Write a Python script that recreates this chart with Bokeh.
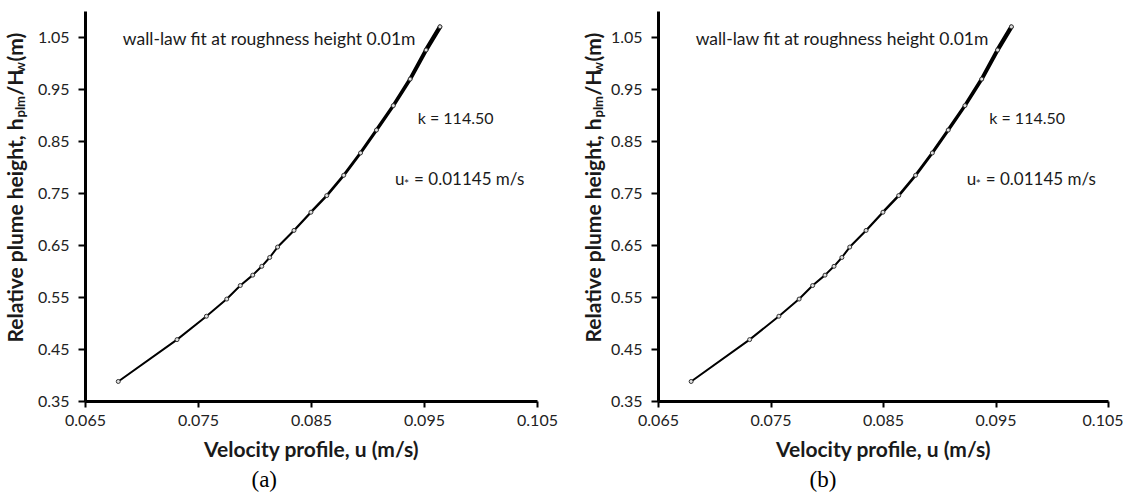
import math
from bokeh.plotting import figure
from bokeh.layouts import row
from bokeh.models import Range1d, FixedTicker, PrintfTickFormatter, Label, ColumnDataSource, Title
from bokeh.core.properties import value
from bokeh.embed import file_html
from bokeh.resources import INLINE

# ---- data ----
velocity_a = [0.0679, 0.0731, 0.0757, 0.0775, 0.0787, 0.0798, 0.0806, 0.0813,
              0.0820, 0.08345, 0.08495, 0.08635, 0.08785, 0.08934, 0.09075,
              0.09224, 0.09373, 0.09514, 0.09637]
height_a = [0.3885, 0.469, 0.514, 0.547, 0.573, 0.593, 0.610, 0.627,
            0.647, 0.679, 0.714, 0.746, 0.785, 0.828, 0.872,
            0.919, 0.970, 1.026, 1.0706]
velocity_b = list(velocity_a)
height_b = list(height_a)

x_ticks = [0.065, 0.075, 0.085, 0.095, 0.105]
y_ticks = [0.35, 0.45, 0.55, 0.65, 0.75, 0.85, 0.95, 1.05]

fit_text = "wall-law fit at roughness height 0.01m"
k_text = "k = 114.50"
ustar_text = "= 0.01145 m/s"
x_title = "Velocity profile, u (m/s)"
y_title_pieces = ["Relative plume height, h", "plm", "/H", "w", " (m)"]
panel_tags = ["(a)", "(b)"]

SANS = "Lato"
TXT = "#1a1a1a"
FIG_H = 494
TOP = 11
FRAME_H = 390
BOTTOM = FIG_H - TOP - FRAME_H


def make_panel(u, h, tag, width, left, right, tag_offset):
    p = figure(width=width, height=FIG_H, output_backend="svg", toolbar_location=None,
               x_range=Range1d(0.065, 0.105), y_range=Range1d(0.35, 1.10),
               min_border_left=left, min_border_right=right,
               min_border_top=TOP, min_border_bottom=BOTTOM)
    p.outline_line_color = None
    p.xgrid.grid_line_color = None
    p.ygrid.grid_line_color = None
    p.background_fill_color = "white"
    p.border_fill_color = "white"

    for ax in (p.xaxis[0], p.yaxis[0]):
        ax.axis_line_width = 3
        ax.axis_line_color = "black"
        ax.major_tick_line_width = 2
        ax.major_tick_line_color = "black"
        ax.major_tick_in = 0
        ax.minor_tick_line_color = None
        ax.major_label_text_font = SANS
        ax.major_label_text_font_size = "16px"
        ax.major_label_text_color = "#222222"
    p.xaxis[0].ticker = FixedTicker(ticks=x_ticks)
    p.yaxis[0].ticker = FixedTicker(ticks=y_ticks)
    p.xaxis[0].formatter = PrintfTickFormatter(format="%.3f")
    p.yaxis[0].formatter = PrintfTickFormatter(format="%.2f")
    p.xaxis[0].major_tick_out = 6
    p.yaxis[0].major_tick_out = 7
    p.xaxis[0].major_label_standoff = 7
    p.yaxis[0].major_label_standoff = 9

    p.xaxis[0].axis_label = x_title
    p.xaxis[0].axis_label_text_font = SANS
    p.xaxis[0].axis_label_text_font_style = "bold"
    p.xaxis[0].axis_label_text_font_size = "21px"
    p.xaxis[0].axis_label_text_color = TXT
    p.xaxis[0].axis_label_standoff = 7

    p.add_layout(Title(text=tag, align="left", offset=tag_offset,
                       text_font="Liberation Serif",
                       text_font_size="23px", text_font_style="normal",
                       text_color="black", standoff=3), "below")

    # curve: line thickening towards the top (as in the reference)
    n = len(u)
    widths = [2.0 if h[i] < 0.63 else 2.0 + 2.6 * (h[i] - 0.63) / (max(h) - 0.63)
              for i in range(n - 1)]
    seg = ColumnDataSource(dict(x0=u[:-1], y0=h[:-1], x1=u[1:], y1=h[1:], w=widths))
    p.segment("x0", "y0", "x1", "y1", source=seg, line_color="black", line_width="w",
              line_cap="round")
    src = ColumnDataSource(dict(u=u, h=h))
    p.scatter("u", "h", source=src, size=4, line_color="#333333", fill_color="#e0e0e0",
              line_width=1)

    # annotations (data coordinates)
    p.add_layout(Label(x=0.0683, y=1.049, text=fit_text, text_font=SANS,
                       text_font_size="17.5px", text_baseline="middle", text_color=TXT))
    p.add_layout(Label(x=0.0944, y=0.897, text=k_text, text_font=SANS,
                       text_font_size="16px", text_baseline="middle", text_color=TXT))
    p.add_layout(Label(x=0.0924, y=0.778, text="u", text_font=SANS,
                       text_font_size="17px", text_baseline="middle", text_color=TXT))
    p.add_layout(Label(x=0.0924, y=0.778, x_offset=9, y_offset=-5, text="*", text_font=SANS,
                       text_font_size="12px", text_baseline="middle", text_color=TXT))
    p.add_layout(Label(x=0.0924, y=0.778, x_offset=19, text=ustar_text, text_font=SANS,
                       text_font_size="17px", text_baseline="middle", text_color=TXT))
    return p


def make_ytitle(width, xc):
    # frame of this strip is aligned with the panel frames: y in px above the frame bottom
    s = figure(width=width, height=FIG_H, output_backend="svg", toolbar_location=None,
               x_range=Range1d(0, width), y_range=Range1d(0, FRAME_H),
               x_axis_location=None, y_axis_location=None, min_border=0)
    s.outline_line_color = None
    s.xgrid.grid_line_color = None
    s.ygrid.grid_line_color = None
    sizes = [21, 13, 21, 13, 21]
    shifts = [0, 5, 0, 5, 0]
    advances = [225, 22, 23, 11, 36]
    y = 59
    for txt, fs, dx, adv in zip(y_title_pieces, sizes, shifts, advances):
        s.text(x=[xc + dx], y=[y], text=[txt], angle=math.pi / 2,
               text_font=value(SANS), text_font_style="bold",
               text_font_size=f"{fs}px", text_baseline="middle", text_align="left",
               text_color=TXT)
        y += adv
    return s


t1 = make_ytitle(34, 14)
p1 = make_panel(velocity_a, height_a, panel_tags[0], 539, 48, 36, 166)
t2 = make_ytitle(34, 19)
p2 = make_panel(velocity_b, height_b, panel_tags[1], 516, 48, 15, 151)
layout = row(t1, p1, t2, p2)

open("out.html", "w").write(file_html(layout, INLINE))
